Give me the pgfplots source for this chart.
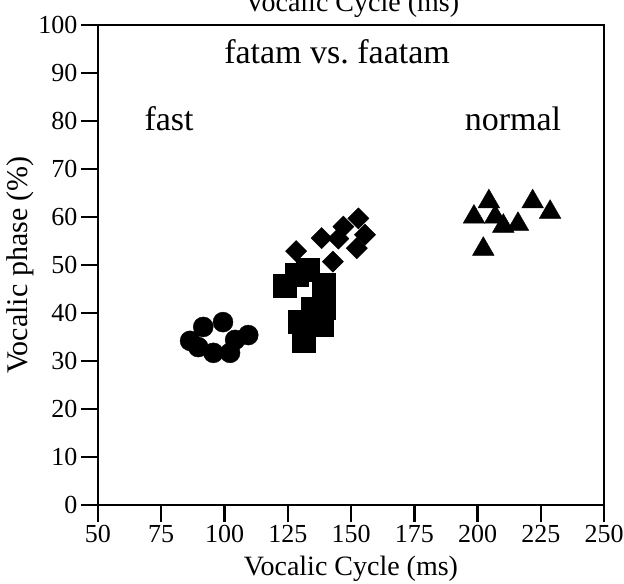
\documentclass[border=0pt]{standalone}
\usepackage{fontspec}
\setmainfont{Liberation Serif}
\usepackage{pgfplots}
\pgfplotsset{compat=1.18}
\begin{document}
\begin{tikzpicture}[font=\fontsize{26bp}{30bp}\selectfont]
\begin{axis}[
  at={(0,0)}, anchor=south west,
  scale only axis, width=506bp, height=480bp,
  xmin=50, xmax=250, ymin=0, ymax=100,
  xtick={50,75,...,250}, ytick={0,10,...,100},
  tick align=outside, tick pos=left,
  major tick length=17bp,
  axis line style={line width=2.5bp},
  every tick/.style={line width=2.5bp, black},
  /pgf/number format/assume math mode=true,
  tick label style={font=\fontsize{26bp}{30bp}\selectfont},
  xlabel style={font=\fontsize{28bp}{32bp}\selectfont, yshift=-6bp},
  ylabel style={font=\fontsize{30bp}{34bp}\selectfont, yshift=-2bp},
  xlabel={Vocalic Cycle (ms)},
  ylabel={Vocalic phase (\%)},
  clip=false,
]
\addplot[only marks, mark=*, mark size=10bp, black] coordinates {
(86.4,34.2) (91.6,37.1) (99.4,38.1) (109.4,35.4) (89.6,32.9) (95.6,31.7) (102.2,31.7) (104.2,34.4)};
\addplot[only marks, mark=square*, mark size=11.5bp, black] coordinates {
(123.9,45.7) (128.5,47.9) (133,49.0) (139.3,45.8) (135,40.8) (139.3,41) (129.8,38.1) (131.4,34.2) (138.5,37.5)};
\addplot[only marks, mark=square*, mark size=7.5bp, mark options={rotate=45}, black] coordinates {
(128.3,52.9) (138.4,55.6) (142.8,50.7) (145,55.5) (147,58) (152.9,59.7) (155.5,56.3) (152.3,53.5)};
\addplot[only marks, mark=triangle*, mark size=12.5bp, black] coordinates {
(204.5,63.2) (198.6,60) (207,60) (210.2,58.1) (216,58.5) (221.8,63.2) (228.7,61) (202.3,53.3)};
\node[anchor=base, font=\fontsize{34bp}{38bp}\selectfont] at (axis cs:144.5,92) {fatam vs.\ faatam};
\node[anchor=base, font=\fontsize{34bp}{38bp}\selectfont] at (axis cs:78.1,78.1) {fast};
\node[anchor=base, font=\fontsize{34bp}{38bp}\selectfont] at (axis cs:214,78.1) {normal};
\end{axis}
\node[anchor=base, font=\fontsize{28bp}{32bp}\selectfont] at (254bp,493bp) {Vocalic Cycle (ms)};
\pgfresetboundingbox
\useasboundingbox (-98bp,-79bp) rectangle (526bp,505bp);
\end{tikzpicture}
\end{document}
